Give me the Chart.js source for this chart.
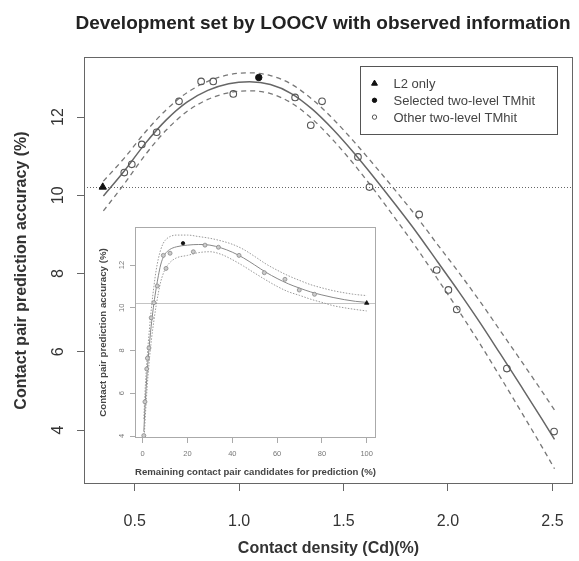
<!DOCTYPE html>
<html>
<head>
<meta charset="utf-8">
<script src="https://cdn.jsdelivr.net/npm/chart.js@4.4.1/dist/chart.umd.min.js"></script>
<style>
  html, body { margin: 0; padding: 0; background: #fff; }
  #wrap { position: relative; width: 579px; height: 561px; }
  #main { position: absolute; left: 0; top: 0; }
  #inset { position: absolute; left: 90px; top: 222px; }
</style>
</head>
<body>
<div id="wrap">
  <canvas id="main" width="579" height="561"></canvas>
  <canvas id="inset" width="292" height="258"></canvas>
</div>
<script>
const FONT = '"Liberation Sans", Arial, Helvetica, sans-serif';
Chart.defaults.font.family = FONT;

// --- main plot: contact density vs accuracy ---
const densityTicks = [0.5, 1.0, 1.5, 2.0, 2.5];
const accuracyTicks = [4, 6, 8, 10, 12];
const baselineAcc = 10.2;

const otherDensity = [0.450, 0.486, 0.534, 0.605, 0.712, 0.818, 0.876, 0.972, 1.268, 1.343, 1.397, 1.569, 1.624, 1.862, 1.946, 2.002, 2.042, 2.282, 2.508];
const otherAcc     = [10.58, 10.79, 11.30, 11.61, 12.40, 12.91, 12.91, 12.59, 12.50, 11.79, 12.40, 10.98, 10.21, 9.51, 8.09, 7.58, 7.08, 5.57, 3.96];
const selectedDensity = [1.094];
const selectedAcc     = [13.01];
const l2Density = [0.347];
const l2Acc     = [10.21];

const fitDensity = [0.35, 0.45, 0.55, 0.65, 0.75, 0.85, 0.95, 1.05, 1.15, 1.25, 1.35, 1.45, 1.55, 1.65, 1.75, 1.85, 1.95, 2.05, 2.15, 2.25, 2.35, 2.45, 2.51];
const fitAcc   = [9.98, 10.62, 11.32, 11.92, 12.38, 12.68, 12.85, 12.90, 12.83, 12.60, 12.20, 11.68, 11.08, 10.43, 9.75, 9.05, 8.30, 7.55, 6.77, 5.95, 5.12, 4.28, 3.76];
const fitUpper = [10.36, 10.95, 11.61, 12.18, 12.62, 12.91, 13.08, 13.13, 13.06, 12.84, 12.45, 11.95, 11.37, 10.75, 10.11, 9.45, 8.74, 8.04, 7.31, 6.54, 5.77, 4.99, 4.51];
const fitLower = [9.60, 10.29, 11.03, 11.66, 12.14, 12.45, 12.62, 12.67, 12.60, 12.36, 11.95, 11.41, 10.79, 10.11, 9.39, 8.65, 7.86, 7.06, 6.23, 5.36, 4.47, 3.57, 3.01];

// --- inset: remaining candidates vs accuracy ---
const remainTicks = [0, 20, 40, 60, 80, 100];
const insetAccTicks = [4, 6, 8, 10, 12];

const otherRemain    = [0.5, 1.0, 1.8, 2.1, 2.8, 3.8, 5.0, 6.5, 9.2, 10.4, 12.2, 22.6, 27.8, 33.8, 43.0, 54.3, 63.5, 69.9, 76.7];
const otherRemainAcc = [4.02, 5.60, 7.14, 7.64, 8.12, 9.53, 10.24, 11.02, 12.45, 11.84, 12.55, 12.62, 12.93, 12.83, 12.45, 11.64, 11.33, 10.83, 10.63];
const selectedRemain    = [18.0];
const selectedRemainAcc = [13.02];
const l2Remain    = [100];
const l2RemainAcc = [10.22];

const insetFitX  = [0.5, 1, 2, 3, 4, 5, 6, 7, 8, 9, 10, 12, 15, 20, 25, 30, 35, 40, 45, 50, 55, 60, 65, 70, 75, 80, 85, 90, 95, 100];
const insetFit   = [4.2, 5.3, 7.0, 8.3, 9.35, 10.2, 10.9, 11.5, 12.0, 12.32, 12.52, 12.72, 12.85, 12.93, 12.96, 12.93, 12.8, 12.6, 12.33, 12.0, 11.66, 11.37, 11.12, 10.92, 10.74, 10.6, 10.48, 10.38, 10.3, 10.25];
const insetUpper = [4.8, 6.0, 7.7, 9.0, 10.1, 11.0, 11.75, 12.3, 12.7, 12.98, 13.15, 13.32, 13.4, 13.4, 13.33, 13.25, 13.13, 12.97, 12.73, 12.4, 12.05, 11.76, 11.5, 11.28, 11.08, 10.93, 10.8, 10.7, 10.62, 10.57];
const insetLower = [3.6, 4.6, 6.3, 7.6, 8.6, 9.4, 10.1, 10.7, 11.2, 11.55, 11.8, 12.1, 12.33, 12.45, 12.58, 12.62, 12.5, 12.25, 11.95, 11.62, 11.3, 11.0, 10.75, 10.58, 10.4, 10.25, 10.1, 10.0, 9.92, 9.85];

const legendLabels = ['L2 only', 'Selected two-level TMhit', 'Other two-level TMhit'];

function pts(xs, ys) {
  return xs.map((x, i) => ({ x: x, y: ys[i] }));
}

function lineSet(data, color, width, dash) {
  return {
    data: data, showLine: true, borderColor: color, borderWidth: width,
    borderDash: dash, pointRadius: 0, tension: 0.4,
    cubicInterpolationMode: 'monotone', order: 2
  };
}

function drawSymbol(ctx, style, x, y, r, fill, stroke) {
  ctx.beginPath();
  if (style === 'triangle') {
    ctx.moveTo(x, y - r);
    ctx.lineTo(x + r * 0.866, y + r * 0.5);
    ctx.lineTo(x - r * 0.866, y + r * 0.5);
    ctx.closePath();
  } else {
    ctx.arc(x, y, r, 0, Math.PI * 2);
  }
  if (fill && fill !== 'transparent') { ctx.fillStyle = fill; ctx.fill(); }
  ctx.strokeStyle = stroke; ctx.lineWidth = 1; ctx.stroke();
}

// baseline + box around the plot area
const framePlugin = {
  id: 'frame',
  beforeDatasetsDraw(chart, args, o) {
    const { ctx, chartArea: a, scales } = chart;
    const y = Math.round(scales.y.getPixelForValue(o.baseline)) + 0.5;
    ctx.save();
    ctx.strokeStyle = o.baseColor;
    ctx.lineWidth = 1;
    ctx.setLineDash(o.baseDash);
    ctx.beginPath();
    ctx.moveTo(a.left, y);
    ctx.lineTo(a.right, y);
    ctx.stroke();
    ctx.restore();
  },
  afterDatasetsDraw(chart, args, o) {
    const { ctx, chartArea: a } = chart;
    ctx.save();
    ctx.strokeStyle = o.boxColor;
    ctx.lineWidth = 1;
    ctx.strokeRect(Math.round(a.left) + 0.5, Math.round(a.top) + 0.5,
      Math.round(a.right - a.left) - 1, Math.round(a.bottom - a.top) - 1);
    ctx.restore();
  }
};

// title and legend of the main plot
const decorPlugin = {
  id: 'decor',
  afterDraw(chart, args, o) {
    const { ctx, chartArea: a } = chart;
    ctx.save();
    ctx.fillStyle = '#222';
    ctx.font = 'bold 19px ' + FONT;
    ctx.textAlign = 'center';
    ctx.textBaseline = 'middle';
    ctx.fillText(o.title, 323, 24);

    const w = 197, h = 68;
    const x0 = Math.round(a.right - 16 - w) + 0.5;
    const y0 = Math.round(a.top + 9) + 0.5;
    ctx.strokeStyle = '#555';
    ctx.lineWidth = 1;
    ctx.strokeRect(x0, y0, w, h);
    ctx.font = '13px ' + FONT;
    ctx.textAlign = 'left';
    const items = chart.data.datasets.filter(d => d.label);
    items.forEach((d, i) => {
      const y = y0 + 17 + i * 16.8;
      const r = d.pointStyle === 'triangle' ? 3.4 : 2.2;
      drawSymbol(ctx, d.pointStyle, x0 + 14, y, r, d.backgroundColor, d.borderColor);
      ctx.fillStyle = '#444';
      ctx.fillText(d.label, x0 + 33, y + 1);
    });
    ctx.restore();
  }
};

function fixTicks(list) {
  return function (s) { s.ticks = list.map(v => ({ value: v })); };
}

new Chart(document.getElementById('main'), {
  type: 'scatter',
  data: {
    datasets: [
      lineSet(pts(fitDensity, fitAcc), '#666', 1.5, []),
      lineSet(pts(fitDensity, fitUpper), '#777', 1.3, [5, 4]),
      lineSet(pts(fitDensity, fitLower), '#777', 1.3, [5, 4]),
      {
        label: legendLabels[0], data: pts(l2Density, l2Acc), pointStyle: 'triangle',
        pointRadius: 4.2, backgroundColor: '#111', borderColor: '#111', borderWidth: 1, order: 0
      },
      {
        label: legendLabels[1], data: pts(selectedDensity, selectedAcc), pointStyle: 'circle',
        pointRadius: 3.2, backgroundColor: '#111', borderColor: '#111', borderWidth: 1, order: 0
      },
      {
        label: legendLabels[2], data: pts(otherDensity, otherAcc), pointStyle: 'circle',
        pointRadius: 3.3, backgroundColor: 'transparent', borderColor: '#555', borderWidth: 1.1, order: 0
      }
    ]
  },
  options: {
    responsive: false,
    animation: false,
    devicePixelRatio: 1,
    layout: { padding: { top: 57, right: 6, left: 0, bottom: 0 } },
    plugins: {
      legend: { display: false },
      tooltip: { enabled: false },
      frame: { baseline: baselineAcc, baseColor: '#666', baseDash: [1, 2], boxColor: '#666' },
      decor: { title: 'Development set by LOOCV with observed information' }
    },
    scales: {
      x: {
        type: 'linear', min: 0.2572, max: 2.5986,
        afterBuildTicks: fixTicks(densityTicks),
        afterFit: s => { s.height = 77; s.paddingLeft = 0; s.paddingRight = 0; },
        ticks: { callback: v => v.toFixed(1), font: { size: 16 }, color: '#333', padding: 21, maxRotation: 0, autoSkip: false },
        grid: { drawOnChartArea: false, tickLength: 7, color: '#666' },
        border: { display: false },
        title: {
          display: true, text: 'Contact density (Cd)(%)', color: '#333',
          font: { size: 16, weight: 'bold' }, padding: { top: 0, bottom: 2.4 }
        }
      },
      y: {
        type: 'linear', min: 2.620, max: 13.534,
        afterBuildTicks: fixTicks(accuracyTicks),
        afterFit: s => { s.width = 84; s.paddingTop = 0; s.paddingBottom = 0; },
        ticks: { font: { size: 16 }, color: '#333', padding: 10, minRotation: 90, maxRotation: 90, crossAlign: 'center', autoSkip: false },
        grid: { drawOnChartArea: false, tickLength: 7, color: '#666' },
        border: { display: false },
        title: {
          display: true, text: 'Contact pair prediction accuracy (%)', color: '#333',
          font: { size: 16, weight: 'bold' }, padding: { top: 12, bottom: 0 }
        }
      }
    }
  },
  plugins: [framePlugin, decorPlugin]
});

new Chart(document.getElementById('inset'), {
  type: 'scatter',
  data: {
    datasets: [
      lineSet(pts(insetFitX, insetFit), '#888', 1, []),
      lineSet(pts(insetFitX, insetUpper), '#999', 1, [1.5, 1.5]),
      lineSet(pts(insetFitX, insetLower), '#999', 1, [1.5, 1.5]),
      {
        data: pts(otherRemain, otherRemainAcc), pointStyle: 'circle', pointRadius: 2,
        backgroundColor: '#ccc', borderColor: '#888', borderWidth: 0.8, order: 0
      },
      {
        data: pts(selectedRemain, selectedRemainAcc), pointStyle: 'circle', pointRadius: 1.7,
        backgroundColor: '#111', borderColor: '#111', borderWidth: 0.8, order: 0
      },
      {
        data: pts(l2Remain, l2RemainAcc), pointStyle: 'triangle', pointRadius: 2.5,
        backgroundColor: '#111', borderColor: '#111', borderWidth: 0.8, order: 0
      }
    ]
  },
  options: {
    responsive: false,
    animation: false,
    devicePixelRatio: 1,
    layout: { padding: { top: 5, right: 6, left: 0, bottom: 0 } },
    plugins: {
      legend: { display: false },
      tooltip: { enabled: false },
      frame: { baseline: baselineAcc, baseColor: '#c4c4c4', baseDash: [], boxColor: '#aaa' }
    },
    scales: {
      x: {
        type: 'linear', min: -3.44, max: 104.15,
        afterBuildTicks: fixTicks(remainTicks),
        afterFit: s => { s.height = 42; s.paddingLeft = 0; s.paddingRight = 0; },
        ticks: { font: { size: 7.5 }, color: '#777', padding: 6.5, maxRotation: 0, autoSkip: false },
        grid: { drawOnChartArea: false, tickLength: 5, color: '#aaa' },
        border: { display: false },
        title: {
          display: true, text: 'Remaining contact pair candidates for prediction (%)', color: '#444',
          font: { size: 9.7, weight: 'bold' }, padding: { top: 0, bottom: 2.2 }
        }
      },
      y: {
        type: 'linear', min: 3.907, max: 13.778,
        afterBuildTicks: fixTicks(insetAccTicks),
        afterFit: s => { s.width = 45; s.paddingTop = 0; s.paddingBottom = 0; },
        ticks: { font: { size: 7.5 }, color: '#777', padding: 3.5, minRotation: 90, maxRotation: 90, crossAlign: 'center', autoSkip: false },
        grid: { drawOnChartArea: false, tickLength: 5, color: '#aaa' },
        border: { display: false },
        title: {
          display: true, text: 'Contact pair prediction accuracy (%)', color: '#444',
          font: { size: 9.7, weight: 'bold' }, padding: { top: 7.2, bottom: 0 }
        }
      }
    }
  },
  plugins: [framePlugin]
});
</script>
</body>
</html>
